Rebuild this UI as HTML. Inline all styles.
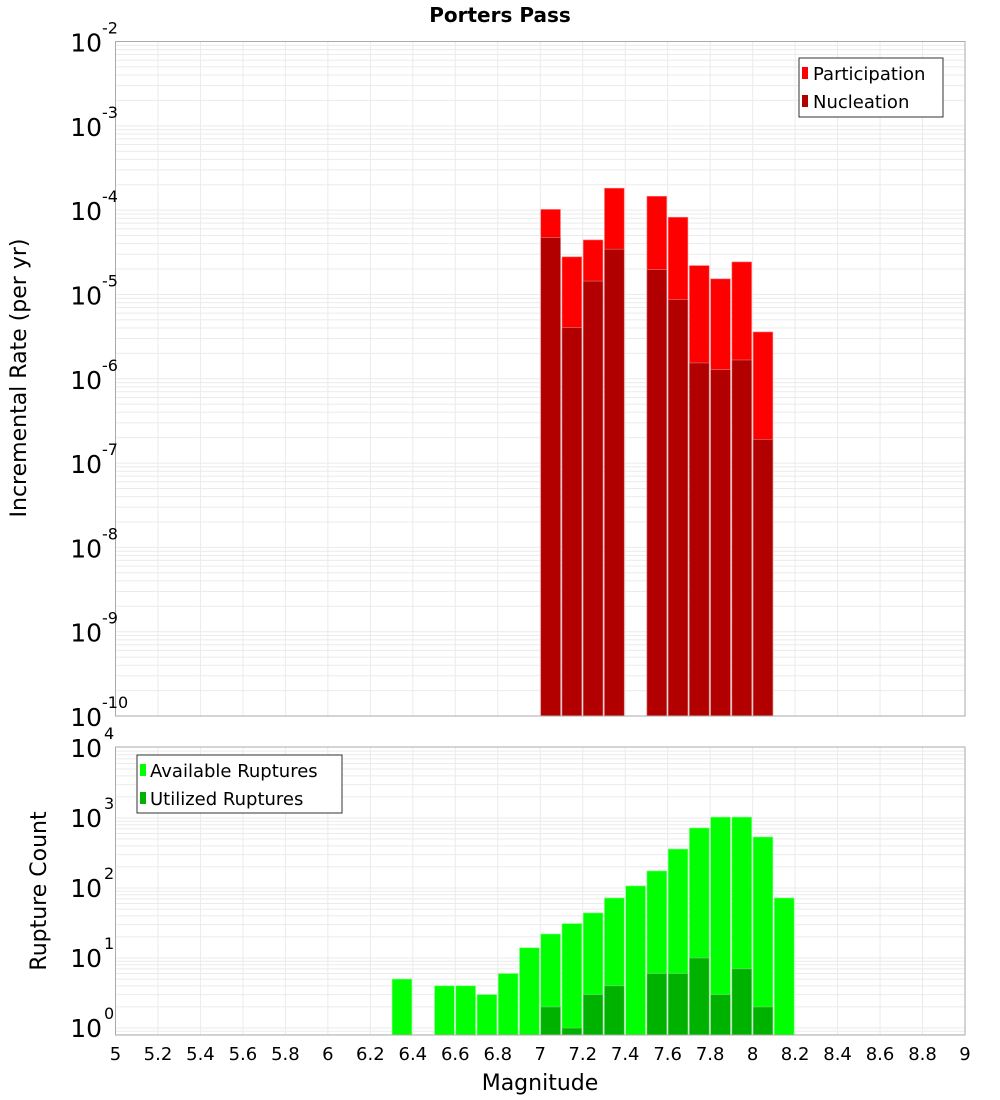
<!DOCTYPE html>
<html><head><meta charset="utf-8"><style>
body{margin:0;background:#fff;}
svg{display:block;font-family:"DejaVu Sans","Liberation Sans",sans-serif;}
</style></head><body>
<svg id="chart" width="1000" height="1100" xmlns="http://www.w3.org/2000/svg"></svg>
<script>
const mags = [6.35,6.45,6.55,6.65,6.75,6.85,6.95,7.05,7.15,7.25,7.35,7.45,7.55,7.65,7.75,7.85,7.95,8.05,8.15];
const rateMags = [7.05,7.15,7.25,7.35,7.55,7.65,7.75,7.85,7.95,8.05];
const participation = [1.02e-4,2.79e-5,4.43e-5,1.82e-4,1.46e-4,8.24e-5,2.2e-5,1.53e-5,2.43e-5,3.59e-6];
const nucleation = [4.72e-5,4.04e-6,1.44e-5,3.44e-5,1.97e-5,8.68e-6,1.54e-6,1.28e-6,1.67e-6,1.91e-7];
const available = [5,0,4,4,3,6,14,22,31,44,72,107,175,360,720,1030,1030,535,72];
const utilized = [0,0,0,0,0,0,0,2,1,3,4,0,6,6,10,3,7,2,0];
const xTicks = ["5","5.2","5.4","5.6","5.8","6","6.2","6.4","6.6","6.8","7","7.2","7.4","7.6","7.8","8","8.2","8.4","8.6","8.8","9"];
const topExps = [-10,-9,-8,-7,-6,-5,-4,-3,-2];
const botExps = [0,1,2,3,4];

const svg = document.getElementById('chart');
const NS = 'http://www.w3.org/2000/svg';
function mk(tag, attrs, parent, text){
  const e = document.createElementNS(NS, tag);
  for (const k in attrs) e.setAttribute(k, attrs[k]);
  if (text !== undefined) e.textContent = text;
  (parent || svg).appendChild(e);
  return e;
}
const L = 115.5, R = 965;
const x = m => L + (m - 5) / 4 * (R - L);
const TT = 41.5, TB = 716;
const yTop = v => TB - (Math.log10(v) + 10) / 8 * (TB - TT);
const BT = 747, BB = 1035;
const bMin = -0.1, bMax = 4.014;
const yBot = v => BB - (Math.log10(v) - bMin) / (bMax - bMin) * (BB - BT);

function grid(g, yf, lo, hi, yT, yB){
  for (let d = lo; d <= hi; d++){
    for (let k = 1; k <= 9; k++){
      const v = k * Math.pow(10, d);
      const yy = yf(v);
      if (yy < yT - 0.5 || yy > yB + 0.5) continue;
      const ln = mk('line', {x1:L, x2:R, y1:yy, y2:yy, stroke:'#ebebeb', 'stroke-width':1}, g);
      
      
    }
  }
  xTicks.forEach(t => {
    const xx = x(parseFloat(t));
    const ln = mk('line', {x1:xx, x2:xx, y1:yT, y2:yB, stroke:'#ebebeb', 'stroke-width':1}, g);
    
    
  });
}

// Title
const title = mk('text', {x:500, y:22, 'text-anchor':'middle', 'font-size':20, 'font-weight':'bold'}, svg, 'Porters Pass');



// TOP PANEL
const gt = mk('g', {});


grid(gt, yTop, -10, -3, TT, TB);
rateMags.forEach((m, i) => {
  const x0 = x(m - 0.05), w = x(m + 0.05) - x0;
  const p = mk('rect', {x:x0+0.5, y:yTop(participation[i]), width:w-1.5, height:TB - yTop(participation[i]), fill:'#ff0000', stroke:'#ff8080', 'stroke-width':0.6}, gt);
  
  
  const n = mk('rect', {x:x0+0.5, y:yTop(nucleation[i]), width:w-1.5, height:TB - yTop(nucleation[i]), fill:'#b20000', stroke:'#d08080', 'stroke-width':0.6}, gt);
  
  
});
const fr1 = mk('rect', {x:L, y:TT, width:R-L, height:TB-TT, fill:'none', stroke:'#aaaaaa', 'stroke-width':1}, gt);


topExps.forEach(e => {
  const yy = yTop(Math.pow(10, e));
  const t = mk('text', {x:102, y:yy+10, 'text-anchor':'end', 'font-size':25}, gt, '10');
  
  
  const s = mk('text', {x:102, y:yy-8, 'font-size':16}, gt, String(e));
  
  
});
const yl1 = mk('text', {x:0, y:0, transform:'translate(26,378) rotate(-90)', 'text-anchor':'middle', 'font-size':22}, gt, 'Incremental Rate (per yr)');


// legend top
const lg1 = mk('g', {});


mk('rect', {x:799, y:58, width:144, height:59, fill:'#fff', stroke:'#333', 'stroke-width':1}, lg1);
mk('rect', {x:802, y:67, width:6, height:12, fill:'#ff0000'}, lg1);
mk('rect', {x:802, y:95, width:6, height:12, fill:'#b20000'}, lg1);
const le1 = mk('text', {x:813, y:80, 'font-size':18}, lg1, 'Participation');


const le2 = mk('text', {x:813, y:108, 'font-size':18}, lg1, 'Nucleation');



// BOTTOM PANEL
const gb = mk('g', {});


grid(gb, yBot, -1, 3, BT, BB);
mags.forEach((m, i) => {
  const x0 = x(m - 0.05), w = x(m + 0.05) - x0;
  if (available[i] > 0){
    const a = mk('rect', {x:x0+0.5, y:yBot(available[i]), width:w-1.5, height:BB - yBot(available[i]), fill:'#00ff00', stroke:'#80ff80', 'stroke-width':0.6}, gb);
    
    
  }
  if (utilized[i] > 0){
    const u = mk('rect', {x:x0+0.5, y:yBot(utilized[i]), width:w-1.5, height:BB - yBot(utilized[i]), fill:'#00b200', stroke:'#80d080', 'stroke-width':0.6}, gb);
    
    
  }
});
const fr2 = mk('rect', {x:L, y:BT, width:R-L, height:BB-BT, fill:'none', stroke:'#aaaaaa', 'stroke-width':1}, gb);


botExps.forEach(e => {
  const yy = yBot(Math.pow(10, e));
  const t = mk('text', {x:102, y:yy+9, 'text-anchor':'end', 'font-size':25}, gb, '10');
  
  
  const s = mk('text', {x:104, y:yy-9, 'font-size':16}, gb, String(e));
  
  
});
xTicks.forEach(t => {
  const tx = mk('text', {x:x(parseFloat(t)), y:1060, 'text-anchor':'middle', 'font-size':18}, gb, t);
  
  
});
const xl = mk('text', {x:540, y:1090, 'text-anchor':'middle', 'font-size':22}, gb, 'Magnitude');


const yl2 = mk('text', {x:0, y:0, transform:'translate(46,891) rotate(-90)', 'text-anchor':'middle', 'font-size':22}, gb, 'Rupture Count');


const lg2 = mk('g', {});


mk('rect', {x:137, y:755, width:205, height:58, fill:'#fff', stroke:'#333', 'stroke-width':1}, lg2);
mk('rect', {x:140, y:764, width:6, height:12, fill:'#00ff00'}, lg2);
mk('rect', {x:140, y:792, width:6, height:12, fill:'#00b200'}, lg2);
const le3 = mk('text', {x:150, y:777, 'font-size':18}, lg2, 'Available Ruptures');


const le4 = mk('text', {x:150, y:805, 'font-size':18}, lg2, 'Utilized Ruptures');


</script>
</body></html>
